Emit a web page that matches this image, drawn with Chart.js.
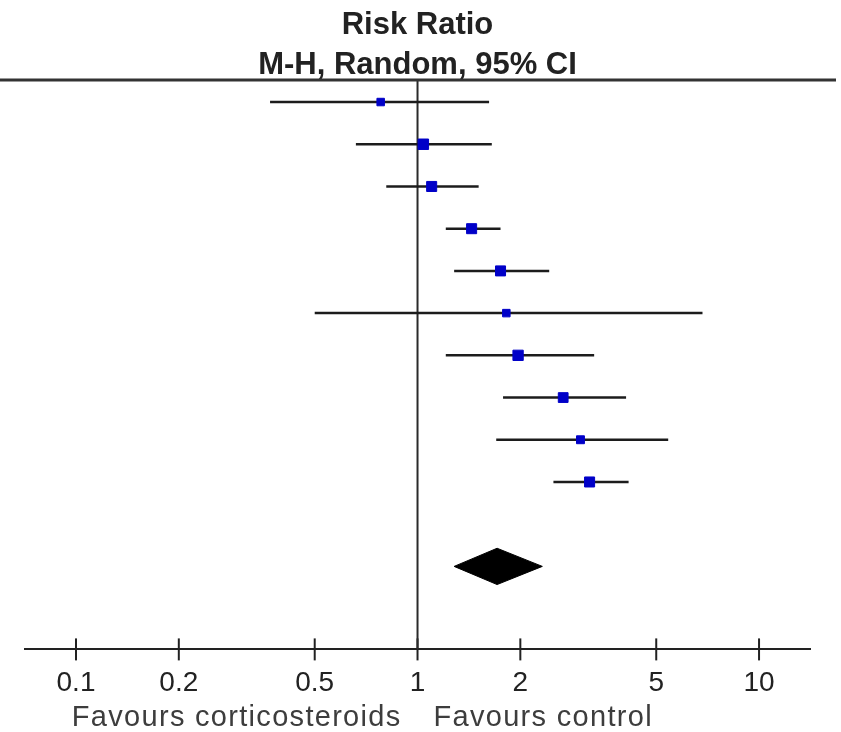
<!DOCTYPE html>
<html>
<head>
<meta charset="utf-8">
<title>Risk Ratio</title>
<script src="https://cdn.jsdelivr.net/npm/chart.js@4.4.1/dist/chart.umd.min.js"></script>
<style>
  html, body { margin: 0; padding: 0; background: #fff; }
  #wrap { width: 841px; height: 732px; }
</style>
</head>
<body>
<div id="wrap"><canvas id="forest"></canvas></div>
<script>
'use strict';

// risk ratios per study (top to bottom) with 95% CI
var estimates = [0.78, 1.04, 1.10, 1.44, 1.75, 1.82, 1.97, 2.67, 3.00, 3.19];
var lowerCI   = [0.37, 0.66, 0.81, 1.21, 1.28, 0.50, 1.21, 1.78, 1.70, 2.50];
var upperCI   = [1.62, 1.65, 1.51, 1.75, 2.43, 6.83, 3.29, 4.08, 5.42, 4.15];

// pooled estimate (random effects)
var pooled = { est: 1.71, lo: 1.28, hi: 2.32 };

var tickValues = [0.1, 0.2, 0.5, 1, 2, 5, 10];
var leftLabel = 'Favours corticosteroids';
var rightLabel = 'Favours control';

// box size per study (square marker radius)
var boxRadius = [5.3, 7.4, 7.1, 7.1, 7.1, 5.3, 7.3, 6.9, 5.6, 7.1];

var X_MIN = 0.0709, X_MAX = 14.1;
var Y_MIN = -0.522, Y_MAX = 12.966;
var POOLED_ROW = 11;

var boxes = estimates.map(function (v, i) { return { x: v, y: i }; });

var ciSets = estimates.map(function (v, i) {
  return {
    type: 'line',
    data: [{ x: lowerCI[i], y: i }, { x: upperCI[i], y: i }],
    showLine: true,
    borderColor: '#1c1c1c',
    borderWidth: 2.5,
    pointRadius: 0
  };
});

var diamond = [
  { x: pooled.lo, y: POOLED_ROW },
  { x: pooled.est, y: POOLED_ROW - 0.43 },
  { x: pooled.hi, y: POOLED_ROW },
  { x: pooled.est, y: POOLED_ROW + 0.43 },
  { x: pooled.lo, y: POOLED_ROW }
];

// rule under the header + the "favours" captions
var decor = {
  id: 'decor',
  afterDraw: function (chart) {
    var ctx = chart.ctx;
    var area = chart.chartArea;
    var xs = chart.scales.x;
    ctx.save();
    ctx.strokeStyle = '#333';
    ctx.lineWidth = 3;
    ctx.beginPath();
    ctx.moveTo(0, area.top);
    ctx.lineTo(836, area.top);
    ctx.stroke();

    var one = xs.getPixelForValue(1);
    ctx.fillStyle = '#3d3d3d';
    ctx.font = '29px "Liberation Sans", Arial, sans-serif';
    ctx.letterSpacing = '1.3px';
    ctx.textBaseline = 'alphabetic';
    ctx.textAlign = 'right';
    ctx.fillText(leftLabel, one - 16, 726);
    ctx.textAlign = 'left';
    ctx.fillText(rightLabel, one + 16, 726);
    ctx.restore();
  }
};

new Chart(document.getElementById('forest'), {
  type: 'scatter',
  data: {
    datasets: [
      {
        data: boxes,
        pointStyle: 'rect',
        pointRadius: boxRadius,
        backgroundColor: '#0000c8',
        borderColor: '#0000c8',
        borderWidth: 1
      },
      {
        type: 'line',
        data: diamond,
        showLine: true,
        fill: 'shape',
        tension: 0,
        backgroundColor: '#000',
        borderColor: '#000',
        borderWidth: 1,
        pointRadius: 0
      }
    ].concat(ciSets).concat([
      {
        type: 'line',
        data: [{ x: 1, y: Y_MIN }, { x: 1, y: Y_MAX }],
        showLine: true,
        borderColor: '#2a2a2a',
        borderWidth: 2,
        pointRadius: 0
      },
      {
        // tick marks crossing the x axis
        data: tickValues.map(function (v) { return { x: v, y: Y_MAX }; }),
        pointStyle: 'line',
        rotation: 90,
        pointRadius: 11,
        borderColor: '#222',
        borderWidth: 2,
        clip: false
      }
    ])
  },
  options: {
    responsive: true,
    maintainAspectRatio: false,
    animation: false,
    events: [],
    layout: { padding: { left: 25, right: 31, top: 0, bottom: 15 } },
    plugins: {
      legend: { display: false },
      tooltip: { enabled: false },
      title: {
        display: true,
        text: ['Risk Ratio', 'M-H, Random, 95% CI'],
        color: '#222',
        font: { family: '"Liberation Sans", Arial, sans-serif', size: 31, weight: 'bold', lineHeight: '40px' },
        padding: { top: 5, bottom: -5 }
      }
    },
    scales: {
      x: {
        type: 'logarithmic',
        min: X_MIN,
        max: X_MAX,
        afterBuildTicks: function (scale) {
          scale.ticks = tickValues.map(function (v) { return { value: v }; });
        },
        grid: { display: false, drawTicks: false },
        border: { display: true, color: '#222', width: 2 },
        ticks: {
          autoSkip: false,
          maxRotation: 0,
          padding: 17,
          color: '#222',
          font: { family: '"Liberation Sans", Arial, sans-serif', size: 28 },
          callback: function (v) { return String(v); }
        }
      },
      y: {
        type: 'linear',
        reverse: true,
        min: Y_MIN,
        max: Y_MAX,
        display: false
      }
    }
  },
  plugins: [decor]
});
</script>
</body>
</html>
